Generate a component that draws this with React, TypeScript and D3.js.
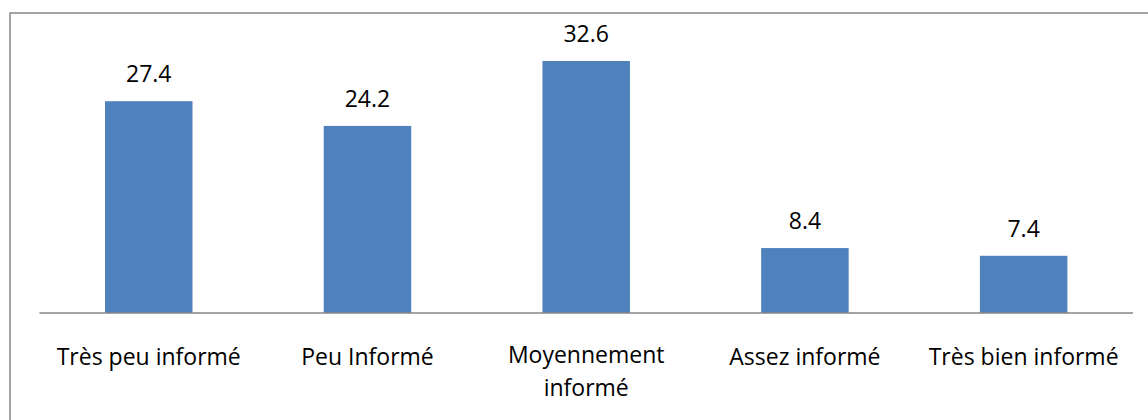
import { useEffect, useRef } from 'react';
import * as d3 from 'd3';

const categories = [
  'Très peu informé',
  'Peu Informé',
  'Moyennement informé',
  'Assez informé',
  'Très bien informé',
];
const values = [27.4, 24.2, 32.6, 8.4, 7.4];

const App = () => {
  const svgRef = useRef<SVGSVGElement>(null);

  useEffect(() => {
    const svg = d3.select(svgRef.current);
    svg.selectAll('*').remove();

    const width = 1148;
    const height = 420;
    const left = 39.4;
    const right = 1133;
    const baseY = 313;
    const font = "'Open Sans', 'DejaVu Sans', sans-serif";

    // cadre du graphique (dépasse à droite et en bas)
    svg
      .append('rect')
      .attr('x', 10)
      .attr('y', 13)
      .attr('width', width)
      .attr('height', height)
      .attr('fill', 'white')
      .attr('stroke', '#878787')
      .attr('stroke-width', 1.5);

    const x = d3
      .scaleBand()
      .domain(categories)
      .range([left, right])
      .paddingInner(0.6)
      .paddingOuter(0.3);

    const y = d3.scaleLinear().domain([0, 35]).range([baseY, baseY - 35 * 7.73]);

    const data = categories.map((c, i) => ({ c, v: values[i] }));

    svg
      .selectAll('rect.bar')
      .data(data)
      .enter()
      .append('rect')
      .attr('class', 'bar')
      .attr('x', (d) => x(d.c)!)
      .attr('y', (d) => y(d.v))
      .attr('width', x.bandwidth())
      .attr('height', (d) => y(0) - y(d.v))
      .attr('fill', '#4F81BD');

    // axe horizontal
    svg
      .append('line')
      .attr('x1', left)
      .attr('x2', right)
      .attr('y1', baseY)
      .attr('y2', baseY)
      .attr('stroke', '#868686')
      .attr('stroke-width', 1.5);

    // valeurs au-dessus des barres
    svg
      .selectAll('text.val')
      .data(data)
      .enter()
      .append('text')
      .attr('class', 'val')
      .attr('x', (d) => x(d.c)! + x.bandwidth() / 2)
      .attr('y', (d) => y(d.v) - 19)
      .attr('text-anchor', 'middle')
      .style('font-family', font)
      .style('font-size', '23px')
      .attr('fill', '#000')
      .text((d) => d.v.toFixed(1));

    // libellés des catégories, avec retour à la ligne si trop long
    const step = x.step();
    data.forEach((d) => {
      const cx = x(d.c)! + x.bandwidth() / 2;
      const t = svg
        .append('text')
        .attr('x', cx)
        .attr('y', 365)
        .attr('text-anchor', 'middle')
        .style('font-family', font)
        .style('font-size', '23px')
        .attr('fill', '#000')
        .text(d.c);
      const node = t.node() as SVGTextElement;
      if (node.getComputedTextLength() > step - 10) {
        const words = d.c.split(' ');
        const first = words.slice(0, -1).join(' ');
        const last = words[words.length - 1];
        t.text(null);
        t.append('tspan').attr('x', cx).attr('y', 363).text(first);
        t.append('tspan').attr('x', cx).attr('y', 396).text(last);
      }
    });
  }, []);

  return (
    <svg
      ref={svgRef}
      width={1148}
      height={420}
      style={{ position: 'absolute', left: 0, top: 0, background: 'white' }}
    ></svg>
  );
};

export default App;
